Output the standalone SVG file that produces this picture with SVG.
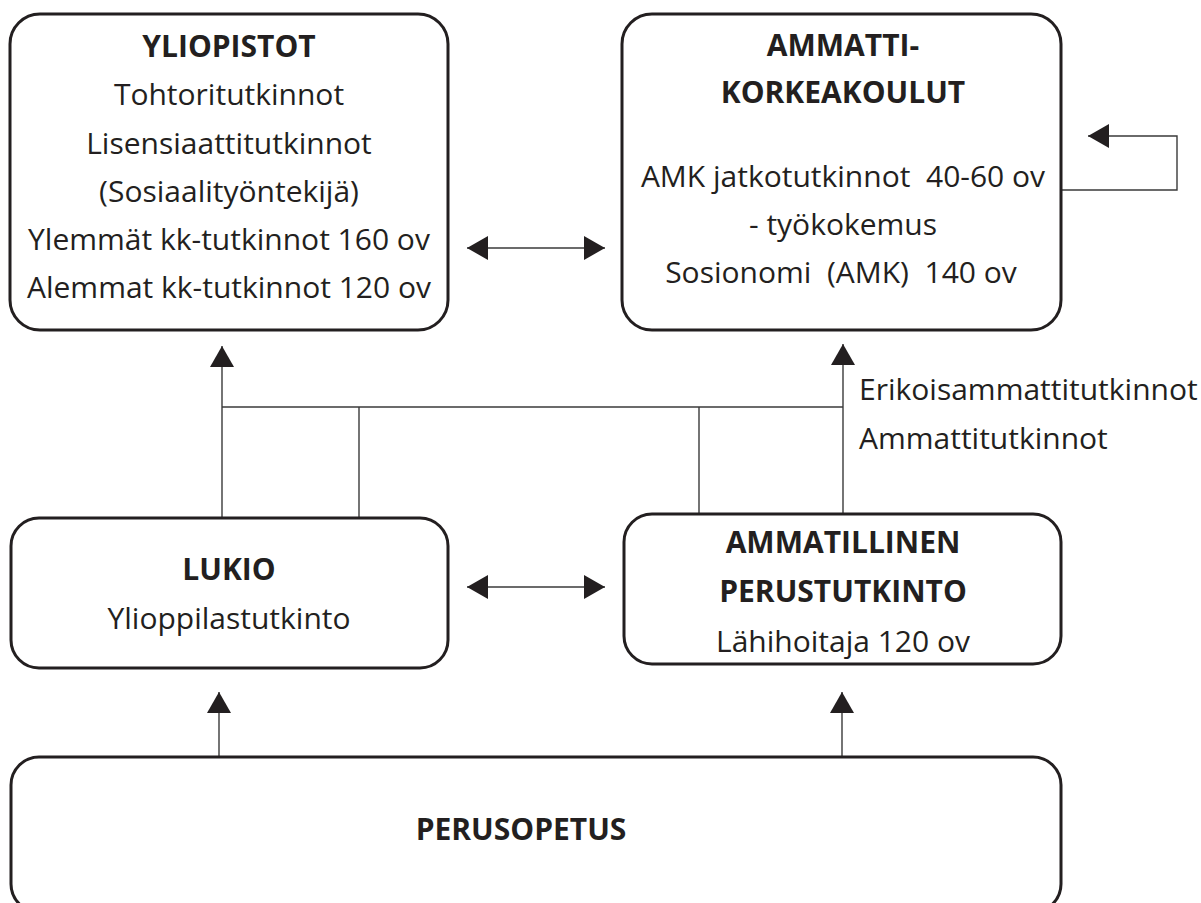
<svg xmlns="http://www.w3.org/2000/svg" width="1201" height="903" viewBox="0 0 1201 903">
  <style>
    .box { fill: #ffffff; stroke: #231f20; stroke-width: 3; }
    .t { font-family: "Open Sans", "DejaVu Sans", sans-serif; font-size: 30px; fill: #231f20; text-anchor: middle; white-space: pre; }
    .b { font-weight: bold; }
    .lbl { text-anchor: start; }
    .wire { fill: none; stroke: #3a3a3a; stroke-width: 1.4; }
  </style>
  <defs>
    <!-- filled triangular head; tip sits on the path end -->
    <marker id="head" markerUnits="userSpaceOnUse" markerWidth="21" markerHeight="24" refX="21" refY="12" orient="auto-start-reverse" viewBox="0 0 21 24">
      <path d="M0,0 L21,12 L0,24 z" fill="#231f20"/>
    </marker>
  </defs>

  <rect width="1201" height="903" fill="#ffffff"/>

  <!-- connectors -->
  <g id="connectors">
    <path class="wire" d="M467,248 H605" marker-start="url(#head)" marker-end="url(#head)"/>
    <path class="wire" d="M467,587 H605" marker-start="url(#head)" marker-end="url(#head)"/>
    <path class="wire" d="M1061,190 H1177 V136 H1088" marker-end="url(#head)"/>
    <path class="wire" d="M222,518 V346" marker-end="url(#head)"/>
    <path class="wire" d="M843,514 V344" marker-end="url(#head)"/>
    <path class="wire" d="M222,407 H843"/>
    <path class="wire" d="M359,407 V518"/>
    <path class="wire" d="M699,407 V514"/>
    <path class="wire" d="M219,757 V692" marker-end="url(#head)"/>
    <path class="wire" d="M842,757 V692" marker-end="url(#head)"/>
    <text class="t lbl" x="859" y="400">Erikoisammattitutkinnot</text>
    <text class="t lbl" x="859" y="449">Ammattitutkinnot</text>
  </g>

  <g id="yliopistot">
    <rect class="box" x="10" y="14" width="438" height="316" rx="30"/>
    <text class="t b" x="229" y="57">YLIOPISTOT</text>
    <text class="t" x="229" y="105">Tohtoritutkinnot</text>
    <text class="t" x="229" y="154">Lisensiaattitutkinnot</text>
    <text class="t" x="229" y="202">(Sosiaalityöntekijä)</text>
    <text class="t" x="229" y="250">Ylemmät kk-tutkinnot 160 ov</text>
    <text class="t" x="229" y="298">Alemmat kk-tutkinnot 120 ov</text>
  </g>

  <g id="ammattikorkeakoulut">
    <rect class="box" x="622" y="14" width="439" height="316" rx="30"/>
    <text class="t b" x="843" y="56">AMMATTI-</text>
    <text class="t b" x="843" y="103">KORKEAKOULUT</text>
    <text class="t" x="843" y="187">AMK jatkotutkinnot  40-60 ov</text>
    <text class="t" x="843" y="235">- työkokemus</text>
    <text class="t" x="841" y="283">Sosionomi  (AMK)  140 ov</text>
  </g>

  <g id="lukio">
    <rect class="box" x="11" y="518" width="437" height="150" rx="28"/>
    <text class="t b" x="229" y="580">LUKIO</text>
    <text class="t" x="229" y="629">Ylioppilastutkinto</text>
  </g>

  <g id="ammatillinen">
    <rect class="box" x="624" y="514" width="437" height="150" rx="28"/>
    <text class="t b" x="843" y="553">AMMATILLINEN</text>
    <text class="t b" x="843" y="602">PERUSTUTKINTO</text>
    <text class="t" x="843" y="652">Lähihoitaja 120 ov</text>
  </g>

  <g id="perusopetus">
    <rect class="box" x="11" y="757" width="1050" height="155" rx="28"/>
    <text class="t b" x="521" y="840">PERUSOPETUS</text>
  </g>
</svg>
